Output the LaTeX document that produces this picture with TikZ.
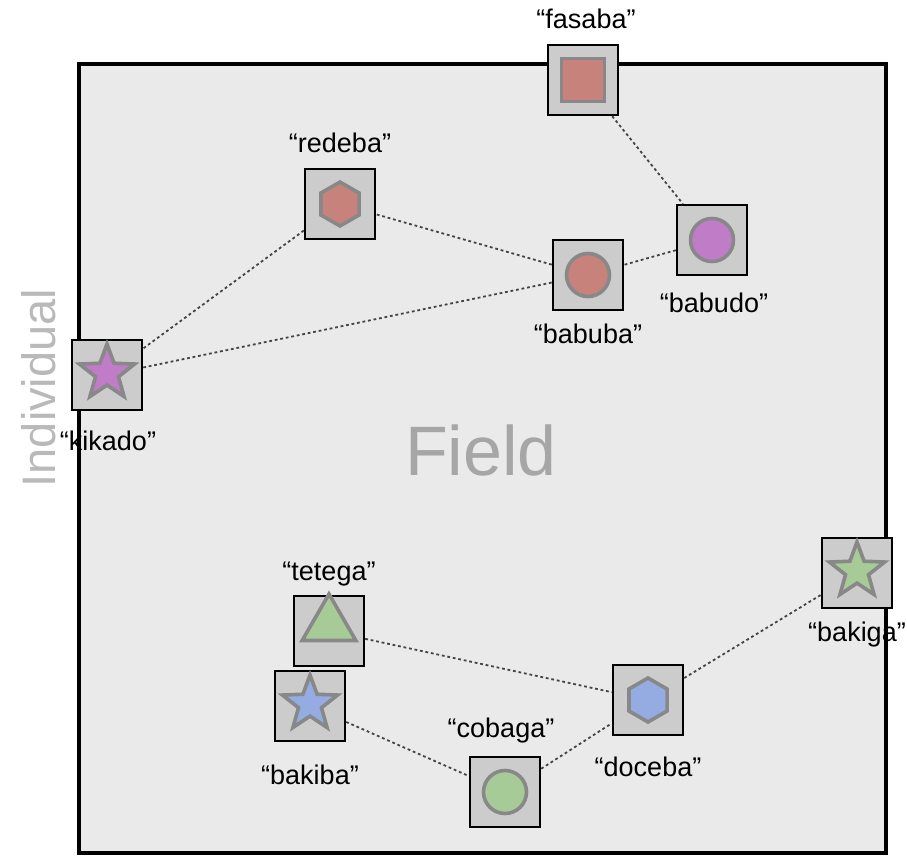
\documentclass[tikz,border=0pt]{standalone}
\usepackage{fontspec}
\setmainfont{Liberation Sans}
\usetikzlibrary{shapes.geometric}
\definecolor{fieldbg}{HTML}{EAEAEA}
\definecolor{boxbg}{HTML}{CCCCCC}
\definecolor{shapeline}{HTML}{888888}
\definecolor{cred}{HTML}{C8827C}
\definecolor{cpurple}{HTML}{C07CC6}
\definecolor{cgreen}{HTML}{A7CB96}
\definecolor{cblue}{HTML}{95ACE2}
\definecolor{linkc}{HTML}{444444}
\tikzset{
  itembox/.style={draw=black, line width=2.4pt, fill=boxbg, minimum size=70pt, inner sep=0pt},
  glyph/.style={draw=shapeline, line width=3.6pt},
  lab/.style={font=\fontsize{27}{30}\selectfont, text=black, inner sep=0pt},
  link/.style={draw=linkc, line width=1.8pt, dash pattern=on 2.8pt off 2.8pt},
}
\begin{document}
\begin{tikzpicture}[x=1pt,y=-1pt]
\useasboundingbox (0,0) rectangle (907,856);
% field
\draw[fill=fieldbg, line width=3.6pt] (79,64) rectangle (886,853);
\node[text=gray!70, font=\fontsize{70}{76}\selectfont] (fieldlab) at (481,450) {Field};
\node[text=gray!55, font=\fontsize{47}{52}\selectfont, rotate=90] (indlab) at (39,388) {Individual};
% boxes
\node[itembox] (fasaba) at (583,80) {};
\node[itembox] (babudo) at (712,240) {};
\node[itembox] (babuba) at (588,275) {};
\node[itembox] (redeba) at (340,204) {};
\node[itembox] (kikado) at (107,375) {};
\node[itembox] (tetega) at (329,631) {};
\node[itembox] (bakiba) at (310,706) {};
\node[itembox] (cobaga) at (505,792) {};
\node[itembox] (doceba) at (648,700) {};
\node[itembox] (bakiga) at (857,573) {};
% links
\draw[link] (fasaba) -- (babudo);
\draw[link] (babudo) -- (babuba);
\draw[link] (babuba) -- (redeba);
\draw[link] (redeba) -- (kikado);
\draw[link] (kikado) -- (babuba);
\draw[link] (tetega) -- (doceba);
\draw[link] (bakiba) -- (cobaga);
\draw[link] (cobaga) -- (doceba);
\draw[link] (doceba) -- (bakiga);
% glyphs
\node[glyph, fill=cred, rectangle, minimum size=43pt, inner sep=0pt] (g-fasaba) at (fasaba) {};
\node[glyph, fill=cpurple, circle, minimum size=43pt, inner sep=0pt] (g-babudo) at (babudo) {};
\node[glyph, fill=cred, circle, minimum size=43pt, inner sep=0pt] (g-babuba) at (babuba) {};
\node[glyph, fill=cred, regular polygon, regular polygon sides=6, shape border rotate=90, minimum size=44pt, inner sep=0pt] (g-redeba) at (redeba) {};
\node[glyph, fill=cpurple, star, star points=5, star point ratio=2.4, minimum size=58pt, inner sep=0pt] (g-kikado) at ([yshift=2pt]kikado.center) {};
\node[glyph, fill=cgreen, regular polygon, regular polygon sides=3, minimum size=62pt, inner sep=0pt] (g-tetega) at ([yshift=6pt]tetega.center) {};
\node[glyph, fill=cblue, star, star points=5, star point ratio=2.4, minimum size=58pt, inner sep=0pt] (g-bakiba) at ([yshift=2pt]bakiba.center) {};
\node[glyph, fill=cgreen, circle, minimum size=43pt, inner sep=0pt] (g-cobaga) at (cobaga) {};
\node[glyph, fill=cblue, regular polygon, regular polygon sides=6, shape border rotate=90, minimum size=44pt, inner sep=0pt] (g-doceba) at (doceba) {};
\node[glyph, fill=cgreen, star, star points=5, star point ratio=2.4, minimum size=58pt, inner sep=0pt] (g-bakiga) at ([yshift=2pt]bakiga.center) {};
% labels
\node[lab] (l-fasaba) at (586,19) {“fasaba”};
\node[lab] (l-babudo) at (714,303) {“babudo”};
\node[lab] (l-babuba) at (588,334) {“babuba”};
\node[lab] (l-redeba) at (340,143) {“redeba”};
\node[lab] (l-kikado) at (108,441) {“kikado”};
\node[lab] (l-tetega) at (329,574) {“tetega”};
\node[lab] (l-bakiba) at (310,775) {“bakiba”};
\node[lab] (l-cobaga) at (501,731) {“cobaga”};
\node[lab] (l-doceba) at (648,767) {“doceba”};
\node[lab] (l-bakiga) at (857,635) {“bakiga”};
\end{tikzpicture}
\end{document}
